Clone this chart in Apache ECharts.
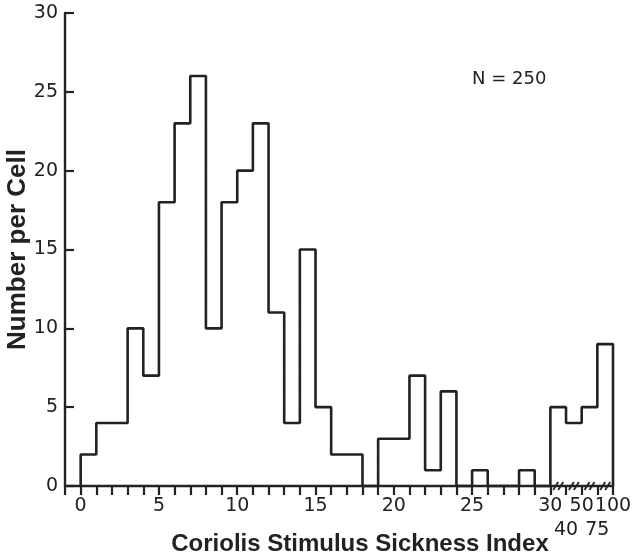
<!DOCTYPE html>
<html>
<head>
<meta charset="utf-8">
<script src="https://cdn.jsdelivr.net/npm/echarts@6/dist/echarts.min.js"></script>
<style>
html,body{margin:0;padding:0;background:#fff;}
#chart{width:632px;height:558px;}
</style>
</head>
<body>
<div id="chart"></div>
<script>
// Bin counts; bins 0..29 are unit cells, last four are 30-40, 40-50, 50-75, 75-100
const counts = [2,4,4,10,7,18,23,26,10,18,20,23,11,4,15,5,2,2,0,3,3,7,1,6,0,1,0,0,1,0,5,4,5,9];
const tickPositions = [0,5,10,15,20,25,30,32,34];
const tickTexts = ['0','5','10','15','20','25','30','50','100'];
const lowTickPositions = [31,33];
const lowTickTexts = ['40','75'];
const breakPositions = [30.5,31.5,32.5,33.5];
const yTicks = [0,5,10,15,20,25,30];
const annotation = 'N = 250';
const xTitle = 'Coriolis Stimulus Sickness Index';
const yTitle = 'Number per Cell';

const ink = '#222';
const stepData = [[0,0]].concat(counts.map((v,i)=>[i,v])).concat([[counts.length,0]]);

function makeFormatter(pos, txt){
  return function(v){
    const r=Math.round(v);
    if(Math.abs(v-r)>1e-6) return '';
    const k=pos.indexOf(r);
    return k<0?'':txt[k];
  };
}
const tickFont = {fontFamily:'DejaVu Sans',fontSize:19,color:ink};

const chart = echarts.init(document.getElementById('chart'));
chart.setOption({
  animation:false,
  backgroundColor:'#fff',
  grid:{left:65,right:19,top:13,bottom:72,containLabel:false,outerBoundsMode:'none'},
  xAxis:[{
    type:'value',min:-1,max:34,interval:1,
    name:xTitle,nameLocation:'middle',nameGap:46,nameMoveOverlap:false,
    nameTextStyle:{fontFamily:'Liberation Sans',fontWeight:'bold',fontSize:24,color:ink,padding:[0,0,0,42]},
    axisLine:{show:true,onZero:false,lineStyle:{color:ink,width:2.4}},
    axisTick:{show:true,inside:false,length:9,interval:0,lineStyle:{color:ink,width:2.2}},
    axisLabel:Object.assign({show:true,interval:0,margin:11,showMinLabel:true,showMaxLabel:true,hideOverlap:false,
      formatter:makeFormatter(tickPositions,tickTexts)},tickFont),
    splitLine:{show:false}
  },{
    type:'value',min:-1,max:34,interval:1,gridIndex:0,position:'bottom',
    axisLine:{show:false,onZero:false},axisTick:{show:false},splitLine:{show:false},
    axisLabel:Object.assign({show:true,interval:0,margin:35,showMinLabel:true,showMaxLabel:true,hideOverlap:false,
      formatter:makeFormatter(lowTickPositions,lowTickTexts)},tickFont)
  }],
  yAxis:{
    type:'value',min:0,max:30,interval:5,
    name:yTitle,nameLocation:'middle',nameGap:34,nameRotate:90,nameMoveOverlap:false,
    nameTextStyle:{fontFamily:'Liberation Sans',fontWeight:'bold',fontSize:26,color:ink},
    axisLine:{show:true,onZero:false,lineStyle:{color:ink,width:2.4}},
    axisTick:{show:true,inside:true,length:9,lineStyle:{color:ink,width:2.2}},
    axisLabel:Object.assign({margin:7,padding:[4,0,0,0],formatter:function(v){return yTicks.indexOf(v)>=0?String(v):'';}},tickFont),
    splitLine:{show:false}
  },
  graphic:[{type:'text',left:472,top:70,style:{text:annotation,fontFamily:'DejaVu Sans',fontSize:18,fill:ink}}],
  series:[
    {type:'line',data:stepData,step:'end',showSymbol:false,symbol:'none',clip:false,
     lineStyle:{color:ink,width:2.6},z:3},
    {type:'custom',data:breakPositions.map(p=>[p,0]),clip:false,z:4,
     renderItem:function(params,api){
       const c=api.coord([api.value(0),api.value(1)]);
       const lines=[];
       [-2.5,2.5].forEach(function(dx){
         lines.push({type:'line',shape:{x1:c[0]+dx-2.5,y1:c[1]+4,x2:c[0]+dx+2.5,y2:c[1]-4},
           style:{stroke:ink,lineWidth:1.8}});
       });
       return {type:'group',children:lines};
     }}
  ]
});
</script>
</body>
</html>
